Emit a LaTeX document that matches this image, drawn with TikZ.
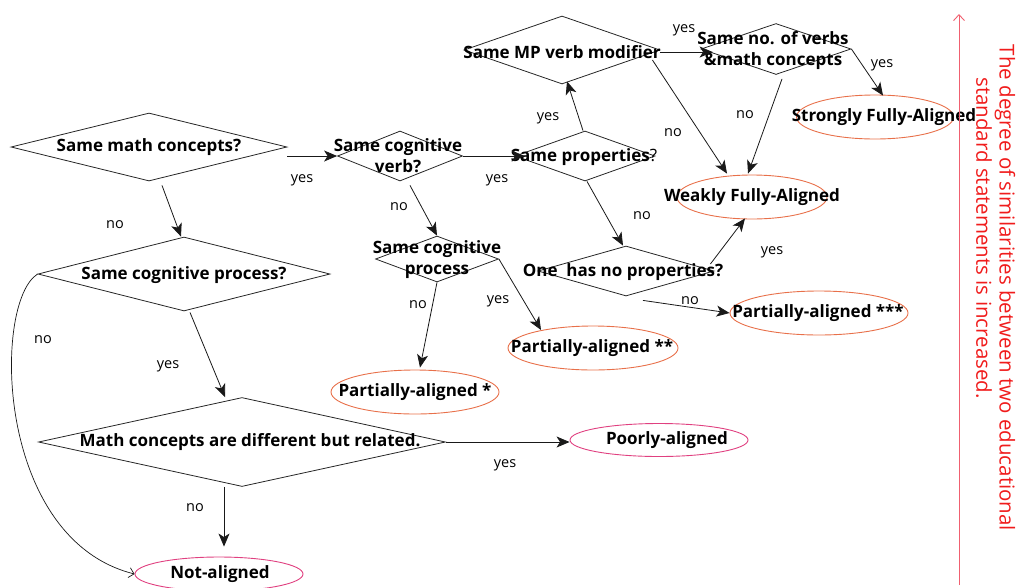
\documentclass[tikz,border=0pt]{standalone}
\usepackage{fontspec}
\setmainfont{Open Sans}
\usetikzlibrary{shapes.geometric,arrows.meta,calc}
\definecolor{ellorange}{HTML}{E8704A}
\definecolor{ellpink}{HTML}{E04080}
\definecolor{redtext}{HTML}{F01C1C}
\definecolor{redarrow}{HTML}{F06070}
\begin{document}
\begin{tikzpicture}[x=1pt,y=-1pt,
  dia/.style={draw=black!85, diamond, inner sep=0pt, line width=0.8pt},
  txt/.style={font=\fontsize{17}{21}\selectfont\bfseries, align=center, inner sep=0pt},
  ellbox/.style={draw=ellorange, ellipse, inner sep=0pt, line width=0.9pt},
  ellpinkbox/.style={draw=ellpink, ellipse, inner sep=0pt, line width=0.9pt},
  lbl/.style={font=\fontsize{14.5}{16}\selectfont, inner sep=0pt},
  arr/.style={draw=black!90, line width=0.8pt, -{Stealth[length=13pt,width=11pt,inset=3.5pt]}},
  redtxt/.style={font=\fontsize{20.5}{24}\selectfont, text=redtext, inner sep=0pt, rotate=-90}
]
\useasboundingbox (0,0) rectangle (1016,587);

% diamonds
\node[dia, minimum width=276pt, minimum height=68pt] (d1) at (149,147) {};
\node[dia, minimum width=292pt, minimum height=74pt] (d2) at (184,274) {};
\node[dia, minimum width=407pt, minimum height=89pt] (d3) at (242,442) {};
\node[dia, minimum width=125pt, minimum height=50pt] (d4) at (400,156) {};
\node[dia, minimum width=123pt, minimum height=46pt] (d5) at (437,259) {};
\node[dia, minimum width=140pt, minimum height=50pt] (d6) at (585,156) {};
\node[dia, minimum width=196pt, minimum height=68pt] (d7) at (562,50) {};
\node[dia, minimum width=150pt, minimum height=51pt] (d8) at (776,49) {};
\node[dia, minimum width=176pt, minimum height=50pt] (d9) at (626,271) {};

% ellipses
\node[ellpinkbox, minimum width=168pt, minimum height=34pt] (na) at (219,574) {};
\node[ellpinkbox, minimum width=178pt, minimum height=33pt] (pa) at (659,440) {};
\node[ellbox, minimum width=168pt, minimum height=44pt] (p1) at (415,392) {};
\node[ellbox, minimum width=170pt, minimum height=44pt] (p2) at (593,348) {};
\node[ellbox, minimum width=178pt, minimum height=44pt] (p3) at (819,313) {};
\node[ellbox, minimum width=150pt, minimum height=44pt] (wf) at (752,197) {};
\node[ellbox, minimum width=157pt, minimum height=44pt] (sf) at (875,117) {};

% texts
\node[txt] (t1) at (149,147) {Same math concepts?};
\node[txt] (t2) at (184,275) {Same cognitive process?};
\node[txt] (t3) at (250,442) {Math concepts are different but related.};
\node[txt] (t4) at (398,156) {Same cognitive\\verb?};
\node[txt] (t5) at (437,260) {Same cognitive\\process};
\node[txt] (t6) at (584,157) {Same properties{\mdseries ?}};
\node[txt] (t7) at (562,52) {Same MP verb modifier};
\node[txt] (t8) at (773,51) {Same no. of verbs\\\&math concepts};
\node[txt] (t9) at (623,272) {One\ \ has no properties?};
\node[txt] (tna) at (220,574) {Not-aligned};
\node[txt] (tpa) at (667,440) {Poorly-aligned};
\node[txt] (tp1) at (415,392) {Partially-aligned *};
\node[txt] (tp2) at (592,348) {Partially-aligned **};
\node[txt] (tp3) at (818,313) {Partially-aligned ***};
\node[txt] (twf) at (752,197) {Weakly Fully-Aligned};
\node[txt] (tsf) at (884,117) {Strongly Fully-Aligned};

% connectors
\draw[arr] (d1.east |- d4.west) -- (d4.west);
\draw[arr] ($(d1.south)+(13,4)$) -- ($(d2.north)+(-3,0)$);
\draw[arr] ($(d2.south)+(6,1)$) -- ($(d3.north)+(-17,0)$);
\draw[draw=black!90, line width=0.7pt, -{Straight Barb[length=5pt,width=10pt]}]
  (d2.west) .. controls ($(d2.west)+(-45,28)$) and ($(na.west)+(-140,-35)$) .. (na.west);
\draw[arr, shorten >=10pt] ($(d3.south)+(-18,0)$) -- ($(na.north)+(5,0)$);
\draw[arr] (d3.east) -- (d3.east -| pa.west);
\draw[arr, shorten >=-10pt] (d4.east) -- (d4.east -| d6.west);
\draw[arr] ($(d4.south)+(10,4)$) -- (d5.north);
\draw[arr] (d5.south) -- ($(p1.north)+(5,-2)$);
\draw[arr] (d5.east) -- ($(p2.center)+(-52,-18)$);
\draw[arr] ($(d6.north)+(-2,0)$) -- ($(d7.south)+(5,-3)$);
\draw[arr] ($(d7.east)+(0,2)$) -- ($(d8.west)+(12,3)$);
\draw[arr] ($(d7.east)+(-8,10)$) -- ($(wf.north)+(-25,-1)$);
\draw[arr] ($(d8.south)+(6,4)$) -- ($(wf.north)+(-4,-1)$);
\draw[arr] (d8.east) -- ($(sf.north)+(8,1)$);
\draw[arr] ($(d6.south)+(2,0)$) -- ($(d9.north)+(-3,0)$);
\draw[arr] ($(d9.east)+(-4,-7)$) -- ($(wf.south)+(-7,-1)$);
\draw[arr] ($(d9.south)+(17,4)$) -- (p3.west);

% labels
\node[lbl] (l1) at (302,180) {yes};
\node[lbl] (l2) at (115,225) {no};
\node[lbl] (l3) at (168,366) {yes};
\node[lbl] (l4) at (43,340) {no};
\node[lbl] (l5) at (195,508) {no};
\node[lbl] (l6) at (505,465) {yes};
\node[lbl] (l7) at (497,180) {yes};
\node[lbl] (l8) at (399,207) {no};
\node[lbl] (l9) at (418,305) {no};
\node[lbl] (l10) at (498,301) {yes};
\node[lbl] (l11) at (548,118) {yes};
\node[lbl] (l12) at (684,30) {yes};
\node[lbl] (l13) at (673,133) {no};
\node[lbl] (l14) at (745,115) {no};
\node[lbl] (l15) at (882,65) {yes};
\node[lbl] (l16) at (642,216) {no};
\node[lbl] (l17) at (772,252) {yes};
\node[lbl] (l18) at (690,301) {no};

% red axis
\coordinate (ab) at (959,585);
\coordinate (at) at (959,14);
\draw[draw=redarrow, line width=0.9pt, -{Straight Barb[length=6pt,width=11pt]}] (ab) -- (at);
\node[redtxt] (r1) at (1005,288) {The degree of similarities between two educational};
\node[redtxt] (r2) at (984,238) {standard statements is increased.};
\end{tikzpicture}
\end{document}
